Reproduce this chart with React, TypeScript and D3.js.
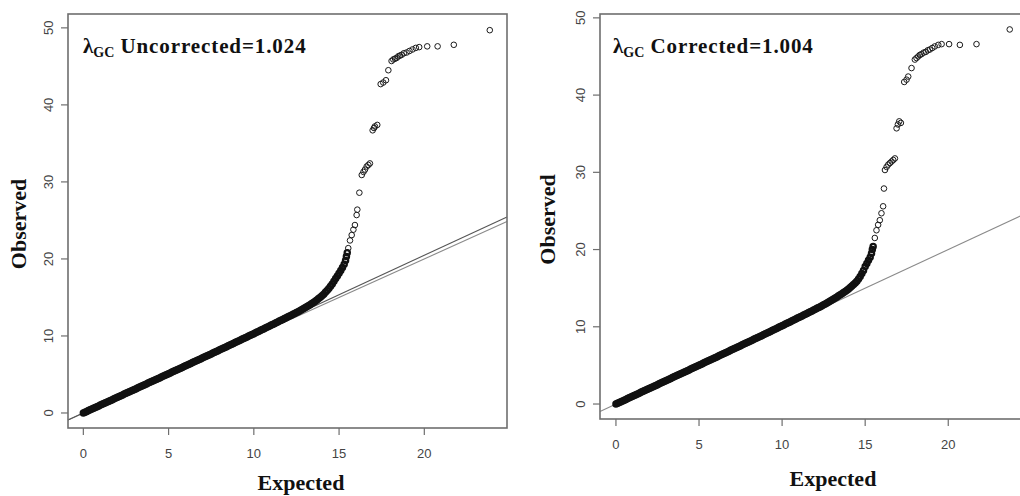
import React from "react";
import * as d3 from "d3";

// expected -log10(p) for the dense body of the QQ plot
const bodyExpected = [
  0, 0.1, 0.2, 0.3, 0.4, 0.5, 0.6, 0.7, 0.8, 0.9,
  1.0, 1.1, 1.2, 1.3, 1.4, 1.5, 1.6, 1.7, 1.8, 1.9,
  2.0, 2.1, 2.2, 2.3, 2.4, 2.5, 2.6, 2.7, 2.8, 2.9,
  3.0, 3.1, 3.2, 3.3, 3.4, 3.5, 3.6, 3.7, 3.8, 3.9,
  4.0, 4.1, 4.2, 4.3, 4.4, 4.5, 4.6, 4.7, 4.8, 4.9,
  5.0, 5.1, 5.2, 5.3, 5.4, 5.5, 5.6, 5.7, 5.8, 5.9,
  6.0, 6.1, 6.2, 6.3, 6.4, 6.5, 6.6, 6.7, 6.8, 6.9,
  7.0, 7.1, 7.2, 7.3, 7.4, 7.5, 7.6, 7.7, 7.8, 7.9,
  8.0, 8.1, 8.2, 8.3, 8.4, 8.5, 8.6, 8.7, 8.8, 8.9,
  9.0, 9.1, 9.2, 9.3, 9.4, 9.5, 9.6, 9.7, 9.8, 9.9,
  10.0, 10.1, 10.2, 10.3, 10.4, 10.5, 10.6, 10.7, 10.8, 10.9,
  11.0, 11.1, 11.2, 11.3, 11.4, 11.5, 11.6, 11.7, 11.8, 11.9,
  12.0, 12.1, 12.2, 12.3, 12.4, 12.5, 12.6, 12.7, 12.8, 12.9,
  13.0, 13.1, 13.2, 13.3, 13.4, 13.5, 13.6, 13.7, 13.8, 13.9,
  14.0, 14.1, 14.2, 14.3, 14.4, 14.5, 14.6, 14.7, 14.8, 14.9,
  15.0, 15.1, 15.2, 15.3, 15.38, 15.43, 15.48,
];

const uncorrectedBody = [
  0, 0.10, 0.20, 0.31, 0.41, 0.51, 0.61, 0.71, 0.82, 0.92,
  1.02, 1.12, 1.22, 1.33, 1.43, 1.53, 1.63, 1.73, 1.84, 1.94,
  2.04, 2.14, 2.24, 2.35, 2.45, 2.55, 2.65, 2.75, 2.86, 2.96,
  3.06, 3.16, 3.26, 3.37, 3.47, 3.57, 3.67, 3.77, 3.88, 3.98,
  4.08, 4.18, 4.28, 4.39, 4.49, 4.59, 4.69, 4.79, 4.90, 5.00,
  5.10, 5.20, 5.31, 5.41, 5.51, 5.61, 5.72, 5.82, 5.92, 6.02,
  6.13, 6.23, 6.33, 6.44, 6.54, 6.64, 6.74, 6.85, 6.95, 7.05,
  7.16, 7.26, 7.36, 7.47, 7.57, 7.67, 7.78, 7.88, 7.99, 8.09,
  8.20, 8.30, 8.40, 8.51, 8.61, 8.72, 8.82, 8.93, 9.03, 9.14,
  9.24, 9.35, 9.45, 9.56, 9.66, 9.77, 9.88, 9.98, 10.09, 10.19,
  10.30, 10.41, 10.52, 10.62, 10.73, 10.84, 10.95, 11.06, 11.17, 11.27,
  11.38, 11.49, 11.60, 11.71, 11.82, 11.93, 12.04, 12.15, 12.26, 12.37,
  12.48, 12.59, 12.70, 12.81, 12.92, 13.03, 13.15, 13.27, 13.39, 13.52,
  13.65, 13.78, 13.92, 14.06, 14.21, 14.36, 14.52, 14.68, 14.85, 15.03,
  15.22, 15.43, 15.66, 15.90, 16.15, 16.45, 16.75, 17.10, 17.45, 17.80,
  18.15, 18.50, 18.90, 19.30, 19.80, 20.30, 20.80,
];

const correctedBody = [
  0, 0.10, 0.20, 0.30, 0.40, 0.50, 0.60, 0.70, 0.80, 0.90,
  1.01, 1.11, 1.21, 1.31, 1.41, 1.51, 1.61, 1.71, 1.81, 1.91,
  2.01, 2.11, 2.21, 2.31, 2.41, 2.51, 2.61, 2.71, 2.81, 2.91,
  3.02, 3.12, 3.22, 3.32, 3.42, 3.52, 3.62, 3.72, 3.82, 3.92,
  4.02, 4.12, 4.22, 4.32, 4.42, 4.52, 4.62, 4.72, 4.82, 4.92,
  5.03, 5.13, 5.23, 5.33, 5.43, 5.53, 5.63, 5.73, 5.83, 5.93,
  6.03, 6.13, 6.24, 6.34, 6.44, 6.54, 6.64, 6.74, 6.84, 6.95,
  7.05, 7.15, 7.25, 7.35, 7.45, 7.56, 7.66, 7.76, 7.86, 7.96,
  8.06, 8.17, 8.27, 8.37, 8.47, 8.58, 8.68, 8.78, 8.88, 8.99,
  9.09, 9.20, 9.30, 9.40, 9.51, 9.61, 9.72, 9.82, 9.93, 10.03,
  10.14, 10.24, 10.35, 10.45, 10.56, 10.66, 10.77, 10.87, 10.98, 11.09,
  11.19, 11.30, 11.41, 11.51, 11.62, 11.73, 11.84, 11.95, 12.06, 12.17,
  12.28, 12.39, 12.50, 12.61, 12.72, 12.84, 12.96, 13.08, 13.21, 13.34,
  13.47, 13.60, 13.73, 13.87, 14.01, 14.15, 14.29, 14.43, 14.58, 14.74,
  14.90, 15.08, 15.27, 15.47, 15.68, 15.90, 16.20, 16.50, 16.90, 17.30,
  17.80, 18.20, 18.60, 19.00, 19.50, 20.00, 20.40,
];

// sparse upper tail, read point by point
const uncorrectedTailX = [
  15.54, 15.64, 15.74, 15.84, 15.93, 16.03, 16.07, 16.19, 16.33, 16.43,
  16.52, 16.62, 16.72, 16.81, 16.97, 17.05, 17.1, 17.24, 17.44, 17.59,
  17.75, 17.89, 18.08, 18.18, 18.28, 18.38, 18.47, 18.57, 18.67, 18.8,
  18.96, 19.13, 19.31, 19.5, 19.7, 20.17, 20.78, 21.73, 23.84,
];
const uncorrectedTailY = [
  21.4, 22.4, 23.1, 23.8, 24.4, 25.7, 26.4, 28.6, 30.9, 31.3,
  31.6, 32.0, 32.2, 32.4, 36.7, 37.0, 37.2, 37.4, 42.7, 42.9,
  43.2, 44.5, 45.7, 45.9, 46.0, 46.1, 46.3, 46.4, 46.5, 46.7,
  46.8, 47.0, 47.2, 47.4, 47.5, 47.6, 47.6, 47.8, 49.7,
];

const correctedTailX = [
  15.58, 15.68, 15.78, 15.88, 15.98, 16.08, 16.13, 16.19, 16.29, 16.39,
  16.49, 16.59, 16.69, 16.79, 16.89, 16.97, 17.05, 17.15, 17.35, 17.49,
  17.59, 17.79, 17.99, 18.09, 18.19, 18.29, 18.39, 18.52, 18.65, 18.77,
  18.89, 19.04, 19.19, 19.4, 19.6, 20.05, 20.7, 21.7, 23.7,
];
const correctedTailY = [
  21.5, 22.5, 23.2, 23.8, 24.7, 25.6, 27.9, 30.3, 30.7, 31.0,
  31.2, 31.4, 31.6, 31.8, 35.7, 36.2, 36.6, 36.4, 41.7, 42.0,
  42.4, 43.5, 44.6, 44.8, 45.0, 45.2, 45.3, 45.5, 45.6, 45.8,
  45.9, 46.1, 46.3, 46.5, 46.6, 46.6, 46.5, 46.6, 48.5,
];

const xTicks = [0, 5, 10, 15, 20];
const yTicks = [0, 10, 20, 30, 40, 50];

const uncorrectedSlopes = [1, 1.024];
const correctedSlopes = [1];

type PanelProps = {
  bodyX: number[];
  bodyY: number[];
  tailX: number[];
  tailY: number[];
  slopes: number[];
  label: string;
  xDomain: [number, number];
  xRange: [number, number];
  yDomain: [number, number];
  yRange: [number, number];
  yLabelX: number;
  yTickLabelX: number;
  xTickLabelY: number;
  xLabelX: number;
  xLabelY: number;
  titleX: number;
};

const serif = "'Liberation Serif', 'Times New Roman', serif";
const sans = "'Liberation Sans', Arial, sans-serif";
const frame = "#6e6e6e";

function Panel(p: PanelProps) {
  const x = d3.scaleLinear().domain(p.xDomain).range(p.xRange);
  const y = d3.scaleLinear().domain(p.yDomain).range(p.yRange);
  const [x0, x1] = p.xRange;
  const [yb, yt] = p.yRange;
  return (
    <g>
      {p.slopes.map((s, i) => {
        const path = d3
          .line<number>()
          .x((d) => x(d))
          .y((d) => y(s * d))(p.xDomain as number[]);
        return (
          <path
            key={i}
            d={path || ""}
            fill="none"
            stroke={i === 0 ? "#8a8a8a" : "#555"}
            strokeWidth={1.1}
          />
        );
      })}
      {/* dense body: thousands of overlapping circles in the original */}
      {p.bodyX.map((d, i) => (
        <circle
          key={"b" + i}
          cx={x(d)}
          cy={y(p.bodyY[i])}
          r={2.6}
          fill="none"
          stroke="#111"
          strokeWidth={2.3}
        />
      ))}
      {p.tailX.map((d, i) => (
        <circle
          key={"t" + i}
          cx={x(d)}
          cy={y(p.tailY[i])}
          r={2.8}
          fill="none"
          stroke="#1a1a1a"
          strokeWidth={1}
        />
      ))}
      <rect
        x={x0}
        y={yt}
        width={x1 - x0}
        height={yb - yt}
        fill="none"
        stroke={frame}
        strokeWidth={1.6}
      />
      {xTicks.map((t) => (
        <g key={"x" + t}>
          <line x1={x(t)} x2={x(t)} y1={yb} y2={yb + 7} stroke={frame} strokeWidth={1.2} />
          <text
            x={x(t)}
            y={p.xTickLabelY}
            textAnchor="middle"
            fontFamily={sans}
            fontSize={13}
            fill="#444"
          >
            {t}
          </text>
        </g>
      ))}
      {yTicks.map((t) => (
        <g key={"y" + t}>
          <line x1={x0 - 7} x2={x0} y1={y(t)} y2={y(t)} stroke={frame} strokeWidth={1.2} />
          <text
            transform={`translate(${p.yTickLabelX},${y(t)}) rotate(-90)`}
            textAnchor="middle"
            dy="0.36em"
            fontFamily={sans}
            fontSize={13}
            fill="#444"
          >
            {t}
          </text>
        </g>
      ))}
      <text
        x={p.titleX}
        y={53}
        fontFamily={serif}
        fontWeight="bold"
        fontSize={21}
        fill="#111"
      >
        λ
        <tspan fontSize={14} dy={4}>
          GC
        </tspan>
        <tspan dy={-4} letterSpacing={0.9}>
          {" " + p.label}
        </tspan>
      </text>
      <text
        x={p.xLabelX}
        y={p.xLabelY}
        textAnchor="middle"
        fontFamily={serif}
        fontWeight="bold"
        fontSize={22}
        fill="#111"
      >
        Expected
      </text>
      <text
        transform={`translate(${p.yLabelX},${(yb + yt) / 2 + 3}) rotate(-90)`}
        textAnchor="middle"
        fontFamily={serif}
        fontWeight="bold"
        fontSize={22}
        fill="#111"
      >
        Observed
      </text>
    </g>
  );
}

export default function App() {
  return (
    <svg
      width={1020}
      height={496}
      style={{ position: "absolute", left: 0, top: 0, background: "#fff" }}
    >
      <rect width={1020} height={496} fill="#fff" />
      <Panel
        bodyX={bodyExpected}
        bodyY={uncorrectedBody}
        tailX={uncorrectedTailX}
        tailY={uncorrectedTailY}
        slopes={uncorrectedSlopes}
        label="Uncorrected=1.024"
        xDomain={[-0.9, 24.85]}
        xRange={[68, 507]}
        yDomain={[-1.95, 51.8]}
        yRange={[428, 14]}
        yLabelX={26}
        yTickLabelX={48}
        xTickLabelY={458}
        xLabelX={301}
        xLabelY={490}
        titleX={83}
      />
      <Panel
        bodyX={bodyExpected}
        bodyY={correctedBody}
        tailX={correctedTailX}
        tailY={correctedTailY}
        slopes={correctedSlopes}
        label="Corrected=1.004"
        xDomain={[-0.96, 24.86]}
        xRange={[600, 1029]}
        yDomain={[-1.94, 50.5]}
        yRange={[419, 14]}
        yLabelX={555}
        yTickLabelX={580}
        xTickLabelY={449}
        xLabelX={833}
        xLabelY={486}
        titleX={613}
      />
    </svg>
  );
}
